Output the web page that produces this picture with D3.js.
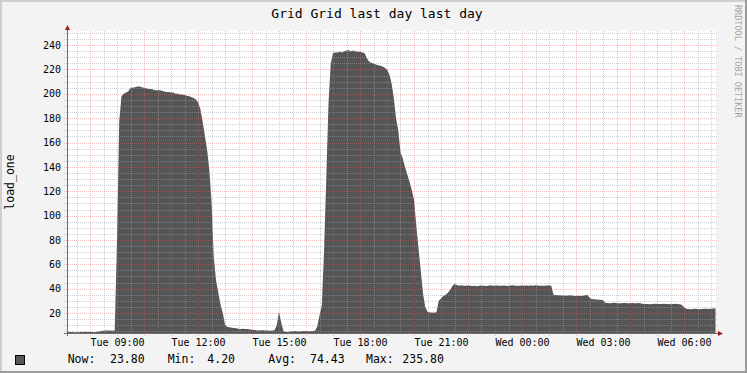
<!DOCTYPE html>
<html>
<head>
<meta charset="utf-8">
<script src="https://cdn.jsdelivr.net/npm/d3@7"></script>
<style>
body { margin: 0; background: #f3f3f3; }
svg { display: block; }
svg text { font-family: "DejaVu Sans Mono", monospace; }
</style>
</head>
<body>
<div id="graph"></div>
<script>
var title = "Grid Grid last day last day";
var yLabel = "load_one";
var credit = "RRDTOOL / TOBI OETIKER";

// Tue 07:10 -> Wed 07:10, one value every 5 minutes (one row per hour)
var startTime = new Date(2011, 2, 1, 7, 10);
var stepMinutes = 5;
var load = [
  4.6, 4.5, 4.4, 4.3, 4.2, 4.3, 4.4, 4.5, 4.6, 4.5, 4.4, 4.4,
  4.3, 4.4, 4.8, 5.2, 5.5, 5.6, 5.7, 5.6, 5.5, 5.6, 80, 178,
  198, 200, 201, 202, 205, 205, 205.5, 206, 206, 205.5, 205, 204.5,
  204, 204, 203.5, 203, 203, 203, 202.5, 202, 201.5, 201.5, 201, 201,
  200, 200, 199.5, 199.5, 199, 198.5, 198, 197.5, 196.5, 195.5, 193, 188,
  178, 166, 155, 138, 112, 66, 47, 37, 27, 20, 10.5, 8.5,
  8.3, 8.0, 7.8, 7.5, 7.0, 6.8, 7.0, 6.9, 6.8, 6.5, 6.2, 6.0,
  5.8, 5.7, 5.9, 5.8, 5.6, 5.7, 5.5, 5.6, 5.8, 10, 21, 12,
  5.0, 4.6, 4.5, 4.8, 5.0, 5.2, 5.0, 4.9, 5.1, 5.3, 5.2, 5.0,
  5.0, 5.2, 5.5, 9, 18, 26, 70, 130, 192, 225, 233.5, 234,
  234, 234.5, 234, 235, 235.5, 235.8, 235, 235.5, 235, 234.5, 234.5, 234,
  233.5, 229.4, 226.5, 225.5, 225, 224, 223.5, 223, 222.5, 221.5, 220, 216,
  209, 197, 180, 170, 152, 147, 140, 134, 128, 121, 113, 92,
  73, 55, 36, 25, 21, 20.5, 20.5, 20.3, 20.8, 30, 32, 34,
  35, 36.5, 39, 42, 43.8, 43, 42.5, 42.8, 42.3, 42.5, 42.7, 42.4,
  42.2, 42.5, 42.0, 42.3, 42.6, 42.4, 42.1, 42.5, 42.8, 42.3, 42.4, 42.6,
  42.3, 42.5, 42.7, 42.4, 42.2, 42.6, 42.9, 42.5, 42.3, 42.4, 42.6, 42.5,
  42.6, 42.4, 42.7, 42.5, 42.8, 42.6, 42.4, 42.3, 42.5, 42.7, 42.6, 42.4,
  35.0, 34.8, 34.5, 34.6, 34.3, 34.4, 34.2, 34.5, 34.3, 34.2, 34.0, 34.1,
  34.0, 34.2, 34.5, 35.0, 32.5, 31.5, 31.4, 31.2, 31.0, 31.0, 30.5, 28.5,
  28.3, 28.1, 28.2, 28.4, 28.2, 28.0, 28.1, 28.3, 28.2, 28.0, 28.1, 28.2,
  28.0, 28.1, 28.2, 27.9, 27.5, 27.4, 27.5, 27.3, 27.4, 27.6, 27.5, 27.4,
  27.5, 27.6, 27.4, 27.5, 27.3, 27.5, 27.6, 27.4, 27.3, 26.8, 24.8, 23.6,
  23.3, 23.2, 23.4, 23.5, 23.3, 23.2, 23.4, 23.6, 23.5, 23.3, 23.5, 23.7,
  23.8
];
var yTicks = [20, 40, 60, 80, 100, 120, 140, 160, 180, 200, 220, 240];
var yMin = 3.6, yMax = 251.6;
var legendNames = ["Now:", "Min:", "Avg:", "Max:"];
var legendValues = ["23.80", "4.20", "74.43", "235.80"];

var w = 747, h = 373;
var plotLeft = 67, plotRight = 716, plotTop = 31, plotBottom = 333;
var minorColor = "rgba(165,165,165,0.5)";
var majorColor = "rgba(230,95,95,0.4)";

var endTime = d3.timeMinute.offset(startTime, stepMinutes * (load.length - 1));
var x = d3.scaleTime().domain([startTime, endTime]).range([plotLeft + 0.5, plotRight - 0.5]);
var y = d3.scaleLinear().domain([yMin, yMax]).range([plotBottom, plotTop]);
var px = function(v) { return Math.round(v) + 0.5; };

var vis = d3.select("#graph").append("svg")
  .attr("width", w)
  .attr("height", h);

// background with rrdtool style shading
vis.append("rect").attr("width", w).attr("height", h).attr("fill", "#f3f3f3");
vis.append("path").attr("d", "M0,1H" + w + "M1,0V" + h)
  .attr("stroke", "#cfcfcf").attr("stroke-width", 2);
vis.append("path").attr("d", "M0," + (h - 1) + "H" + w + "M" + (w - 1) + ",0V" + h)
  .attr("stroke", "#9c9c9c").attr("stroke-width", 2);

vis.append("rect")
  .attr("x", plotLeft).attr("y", plotTop)
  .attr("width", plotRight - plotLeft).attr("height", plotBottom - plotTop)
  .attr("fill", "#ffffff");

var area = d3.area()
  .x(function(d, i) { return x(d3.timeMinute.offset(startTime, stepMinutes * i)); })
  .y0(y(yMin))
  .y1(function(d) { return y(d); });

vis.append("path")
  .datum(load)
  .attr("d", area)
  .attr("fill", "#555555");

// grid
var halfHours = d3.timeMinute.every(30).range(startTime, endTime);
var grid = vis.append("g").attr("shape-rendering", "crispEdges")
  .attr("stroke-width", 1).attr("stroke-dasharray", "1,1").attr("fill", "none");

grid.selectAll(".vminor")
  .data(halfHours.filter(function(d) { return d.getMinutes() != 0; }))
  .enter().append("line")
  .attr("x1", function(d) { return px(x(d)); })
  .attr("x2", function(d) { return px(x(d)); })
  .attr("y1", plotTop).attr("y2", plotBottom)
  .attr("stroke", minorColor);

grid.selectAll(".hminor")
  .data(d3.range(5, yMax, 5).filter(function(d) { return d % 20 != 0; }))
  .enter().append("line")
  .attr("x1", plotLeft - 3).attr("x2", plotRight + 2)
  .attr("y1", function(d) { return px(y(d)); })
  .attr("y2", function(d) { return px(y(d)); })
  .attr("stroke", minorColor);

grid.selectAll(".vmajor")
  .data(halfHours.filter(function(d) { return d.getMinutes() == 0; }))
  .enter().append("line")
  .attr("x1", function(d) { return px(x(d)); })
  .attr("x2", function(d) { return px(x(d)); })
  .attr("y1", plotTop).attr("y2", plotBottom + 3)
  .attr("stroke", majorColor);

grid.selectAll(".hmajor")
  .data(yTicks)
  .enter().append("line")
  .attr("x1", plotLeft - 3).attr("x2", plotRight + 2)
  .attr("y1", function(d) { return px(y(d)); })
  .attr("y2", function(d) { return px(y(d)); })
  .attr("stroke", majorColor);

// axes and arrows
vis.append("line")
  .attr("x1", plotLeft - 3).attr("x2", plotRight + 3)
  .attr("y1", plotBottom + 0.5).attr("y2", plotBottom + 0.5)
  .attr("stroke", "#6e6e6e");
vis.append("line")
  .attr("x1", plotLeft + 0.5).attr("x2", plotLeft + 0.5)
  .attr("y1", plotBottom + 3).attr("y2", plotTop - 2)
  .attr("stroke", "#6e6e6e");
vis.append("path")
  .attr("d", "M" + (plotRight + 2) + "," + (plotBottom - 2) + "L" + (plotRight + 7) + "," + (plotBottom + 0.5) + "L" + (plotRight + 2) + "," + (plotBottom + 3) + "Z")
  .attr("fill", "#9b1b1b");
vis.append("path")
  .attr("d", "M" + (plotLeft - 2) + "," + (plotTop - 1) + "L" + (plotLeft + 0.5) + "," + (plotTop - 6) + "L" + (plotLeft + 3) + "," + (plotTop - 1) + "Z")
  .attr("fill", "#9b1b1b");

// labels
vis.selectAll(".ylab")
  .data(yTicks)
  .enter().append("text")
  .attr("x", 61)
  .attr("y", function(d) { return y(d) + 3.6; })
  .attr("text-anchor", "end")
  .attr("font-size", "10px")
  .text(function(d) { return d; });

var fmt = d3.timeFormat("%a %H:%M");
vis.selectAll(".xlab")
  .data(d3.timeHour.every(3).range(startTime, endTime))
  .enter().append("text")
  .attr("x", function(d) { return x(d) + 0.5; })
  .attr("y", 345.5)
  .attr("text-anchor", "middle")
  .attr("font-size", "10px")
  .text(function(d) { return fmt(d); });

vis.append("text")
  .attr("x", 377).attr("y", 17.5)
  .attr("text-anchor", "middle")
  .attr("font-size", "13px")
  .text(title);

vis.append("text")
  .attr("transform", "translate(14,182) rotate(-90)")
  .attr("text-anchor", "middle")
  .attr("font-size", "11.5px")
  .text(yLabel);

vis.append("text")
  .attr("transform", "translate(735,5) rotate(90)")
  .attr("font-size", "8.5px")
  .attr("fill", "#a4a4a4")
  .text(credit);

// legend
vis.append("rect")
  .attr("x", 15.5).attr("y", 355.5)
  .attr("width", 9).attr("height", 9)
  .attr("fill", "#555555").attr("stroke", "#000000");

var nameX = [67.7, 167.7, 268.3, 366];
var valueX = [110, 207.3, 310, 402.3];
legendNames.forEach(function(n, i) {
  vis.append("text").attr("x", nameX[i]).attr("y", 363)
    .attr("font-size", "11.5px").text(n);
  vis.append("text").attr("x", valueX[i]).attr("y", 363)
    .attr("font-size", "11.5px").text(legendValues[i]);
});
</script>
</body>
</html>
